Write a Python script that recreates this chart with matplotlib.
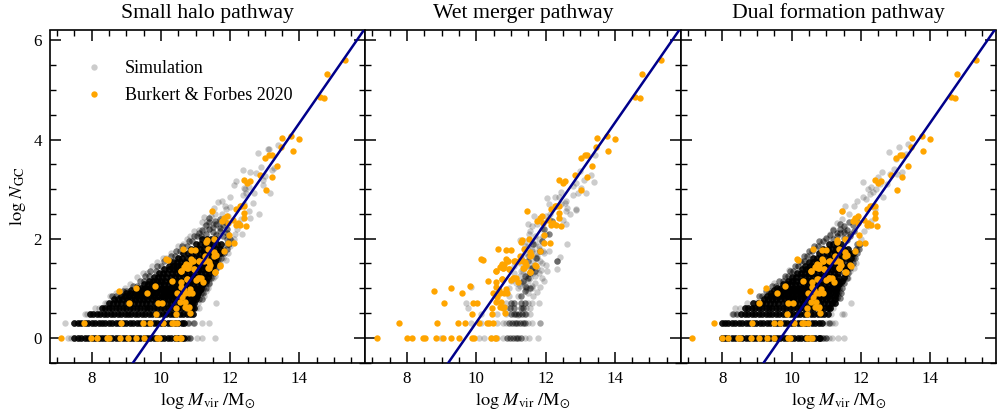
import numpy as np
import matplotlib
matplotlib.use("Agg")
import matplotlib.pyplot as plt

plt.rcParams["font.family"] = ["Liberation Serif", "DejaVu Serif"]
plt.rcParams["mathtext.fontset"] = "stix"

# Burkert & Forbes 2020
obs_x = [7.13, 7.99, 8.16, 8.45, 8.51, 8.83, 9.05, 9.28, 9.50, 9.89, 9.95, 10.44, 10.54, 10.58,
         7.77, 8.86, 9.48, 9.68, 10.07, 10.31, 10.37, 10.47,
         9.87, 10.45, 10.83, 10.76, 10.45, 9.91, 10.03, 9.07, 8.79, 9.27, 9.59, 9.82, 10.33,
         10.57, 10.73, 10.58, 10.58, 10.74, 10.47, 10.61, 10.71, 10.56, 10.69, 10.80, 10.66,
         10.85, 10.90, 10.80, 10.70, 11.00, 11.09, 11.22, 10.95, 10.80, 10.76, 10.90, 11.09,
         11.36, 11.56, 11.40, 11.70, 11.24, 10.20,
         11.47, 12.31, 12.40, 12.40, 12.40, 12.17, 12.46, 12.22, 12.29, 12.17, 11.91, 11.83,
         11.76, 11.93, 12.08, 11.96, 12.12, 11.95, 11.53, 11.32, 11.30, 11.83, 10.63, 10.87,
         10.99, 10.15, 11.37, 11.54, 11.59, 11.54, 11.26, 10.87, 10.92, 11.11, 11.35, 11.43,
         11.72, 10.73, 10.78, 10.68, 10.57, 10.95, 11.38, 11.55, 10.75, 11.16, 11.07,
         13.49, 13.76, 14.00, 13.46, 13.80, 13.01, 13.13, 13.20, 13.35, 12.86, 13.20, 12.40,
         12.57, 12.49, 13.03, 12.27, 15.32, 14.78, 14.59, 14.72]
obs_y = [0, 0, 0, 0, 0, 0, 0, 0, 0, 0, 0, 0, 0, 0,
         0.301, 0.301, 0.301, 0.301, 0.301, 0.301, 0.301, 0.301,
         0.477, 0.477, 0.50, 0.602, 0.602, 0.70, 0.70, 0.70, 0.95, 1.00, 0.90, 1.04, 1.15,
         1.34, 1.48, 1.12, 1.03, 1.19, 0.90, 0.83, 0.73, 0.73, 0.61, 0.61, 0.97,
         0.98, 0.90, 0.90, 0.90, 1.17, 1.20, 1.13, 1.38, 1.47, 1.40, 1.54, 1.54,
         1.40, 1.32, 1.52, 1.46, 1.55, 1.57,
         2.55, 2.65, 2.65, 2.52, 2.42, 2.59, 2.25, 2.32, 2.27, 2.28, 2.46, 2.42,
         2.35, 2.32, 2.38, 2.08, 1.92, 1.91, 2.00, 1.98, 1.93, 1.76, 1.80, 1.77,
         1.77, 1.58, 1.79, 1.74, 1.67, 1.64, 1.65, 1.59, 1.54, 1.54, 1.54, 1.47,
         1.45, 1.47, 1.40, 1.42, 1.35, 1.38, 1.40, 1.32, 1.18, 1.20, 1.20,
         4.04, 4.07, 4.02, 3.85, 3.77, 3.63, 3.69, 3.69, 3.46, 3.28, 3.25, 3.19,
         3.16, 3.12, 2.99, 2.66, 5.60, 5.33, 4.86, 4.84]

# fit line end points
line_x = [9.2, 15.85]
line_y = [-0.5, 6.2]

# small halo pathway, core of the cloud as rows of log N
small_rows_y = [0, 0.301, 0.477, 0.602, 0.699, 0.778, 0.845, 0.903, 0.954, 1.0, 1.08, 1.15,
                1.23, 1.3, 1.38, 1.45, 1.52, 1.6, 1.7, 1.8, 1.9, 2.0]
small_rows_x = [
    [7.5, 7.6, 7.7, 7.8, 7.9, 8.0, 8.1, 8.2, 8.3, 8.4, 8.5, 8.6, 8.7, 8.8, 8.9, 9.0, 9.1, 9.2, 9.3, 9.4,
     9.5, 9.6, 9.7, 9.8, 9.9, 10.0, 10.1, 10.2, 10.3, 10.4, 10.5, 10.6, 10.68],
    [7.5, 7.6, 7.7, 7.8, 7.9, 8.0, 8.1, 8.2, 8.3, 8.4, 8.5, 8.6, 8.7, 8.8, 8.9, 9.0, 9.1, 9.2, 9.3, 9.4,
     9.5, 9.6, 9.7, 9.8, 9.9, 10.0, 10.1, 10.2, 10.3, 10.4, 10.5, 10.6, 10.68],
    [7.95, 8.05, 8.15, 8.25, 8.35, 8.45, 8.55, 8.65, 8.75, 8.85, 8.95, 9.05, 9.15, 9.25, 9.35, 9.45,
     9.55, 9.65, 9.75, 9.85, 9.95, 10.05, 10.15, 10.25, 10.35, 10.45, 10.55, 10.65, 10.75, 10.85, 10.92],
    [8.3, 8.4, 8.5, 8.6, 8.7, 8.8, 8.9, 9.0, 9.1, 9.2, 9.3, 9.4, 9.5, 9.6, 9.7, 9.8, 9.9, 10.0, 10.1,
     10.2, 10.3, 10.4, 10.5, 10.6, 10.7, 10.8, 10.9, 10.95],
    [8.5, 8.62, 8.74, 8.86, 8.98, 9.1, 9.22, 9.34, 9.46, 9.58, 9.7, 9.82, 9.94, 10.06, 10.18, 10.3,
     10.42, 10.54, 10.66, 10.78, 10.9, 10.97],
    [8.65, 8.77, 8.89, 9.01, 9.13, 9.25, 9.37, 9.49, 9.61, 9.73, 9.85, 9.97, 10.09, 10.21, 10.33, 10.45,
     10.57, 10.69, 10.81, 10.93, 11.0],
    [8.85, 8.97, 9.09, 9.21, 9.33, 9.45, 9.57, 9.69, 9.81, 9.93, 10.05, 10.17, 10.29, 10.41, 10.53,
     10.65, 10.77, 10.89, 11.01, 11.05],
    [9.0, 9.12, 9.24, 9.36, 9.48, 9.6, 9.72, 9.84, 9.96, 10.08, 10.2, 10.32, 10.44, 10.56, 10.68, 10.8,
     10.92, 11.04, 11.08],
    [9.15, 9.27, 9.39, 9.51, 9.63, 9.75, 9.87, 9.99, 10.11, 10.23, 10.35, 10.47, 10.59, 10.71, 10.83,
     10.95, 11.07, 11.12],
    [9.3, 9.42, 9.54, 9.66, 9.78, 9.9, 10.02, 10.14, 10.26, 10.38, 10.5, 10.62, 10.74, 10.86, 10.98,
     11.1, 11.15],
    [9.5, 9.62, 9.74, 9.86, 9.98, 10.1, 10.22, 10.34, 10.46, 10.58, 10.7, 10.82, 10.94, 11.06, 11.18, 11.22],
    [9.65, 9.77, 9.89, 10.01, 10.13, 10.25, 10.37, 10.49, 10.61, 10.73, 10.85, 10.97, 11.09, 11.21, 11.3],
    [9.8, 9.92, 10.04, 10.16, 10.28, 10.4, 10.52, 10.64, 10.76, 10.88, 11.0, 11.12, 11.24, 11.35],
    [9.95, 10.07, 10.19, 10.31, 10.43, 10.55, 10.67, 10.79, 10.91, 11.03, 11.15, 11.27, 11.4],
    [10.1, 10.22, 10.34, 10.46, 10.58, 10.7, 10.82, 10.94, 11.06, 11.18, 11.3, 11.45],
    [10.22, 10.34, 10.46, 10.58, 10.7, 10.82, 10.94, 11.06, 11.18, 11.3, 11.42, 11.5],
    [10.35, 10.47, 10.59, 10.71, 10.83, 10.95, 11.07, 11.19, 11.31, 11.43, 11.55],
    [10.5, 10.62, 10.74, 10.86, 10.98, 11.1, 11.22, 11.34, 11.46, 11.6],
    [10.65, 10.77, 10.89, 11.01, 11.13, 11.25, 11.37, 11.49, 11.6, 11.7],
    [10.88, 11.0, 11.12, 11.24, 11.36, 11.48, 11.6, 11.72],
    [11.02, 11.14, 11.26, 11.38, 11.5, 11.62, 11.74],
    [11.2, 11.32, 11.44, 11.56],
]
# small halo pathway, grey edge of the core
small_edge_x = [8.6, 8.7, 8.9, 9.0, 9.2, 9.3, 9.4, 9.5, 9.55, 9.65, 9.7, 9.85, 9.9, 10.0, 10.1, 10.25, 10.3, 10.4,
                10.45, 10.55, 10.6, 10.75, 10.8, 10.9, 10.95, 11.05, 11.15,
                11.1, 11.2, 11.3, 11.4, 11.5, 11.6, 11.7, 11.8, 11.9,
                11.3, 11.4, 11.5, 11.6, 11.7, 11.8, 11.9, 11.4, 11.55, 11.7, 11.85,
                11.1, 11.18, 11.15, 11.22, 11.22, 11.3, 11.3, 11.38, 11.38, 11.45, 11.45, 11.52, 11.5, 11.6,
                11.58, 11.66, 11.66, 11.74, 11.75, 11.82, 11.8, 11.9, 11.9, 11.98, 11.92, 12.0,
                10.75, 10.85, 10.95, 10.78, 10.88]
small_edge_y = [0.85, 0.85, 0.95, 0.95, 1.05, 1.05, 1.15, 1.15, 1.25, 1.25, 1.35, 1.35, 1.45, 1.45, 1.55, 1.55, 1.65, 1.65,
                1.75, 1.75, 1.85, 1.85, 1.95, 1.95, 2.05, 2.05, 2.05,
                2.12, 2.18, 2.1, 2.2, 2.14, 2.08, 2.16, 2.05, 2.12,
                2.27, 2.33, 2.24, 2.3, 2.22, 2.28, 2.2, 2.42, 2.36, 2.4, 2.33,
                0.78, 0.78, 0.9, 0.9, 1.0, 1.0, 1.1, 1.1, 1.2, 1.2, 1.3, 1.3, 1.4, 1.4,
                1.5, 1.5, 1.6, 1.6, 1.7, 1.7, 1.8, 1.8, 1.9, 1.9, 2.0, 2.0,
                0, 0, 0.301, 0.301, 0.477]
# small halo pathway, single galaxies around the core
small_x = [7.22, 7.33, 7.42, 10.78, 10.85, 11.03, 11.18, 11.57, 10.8, 10.92, 11.2, 11.4, 7.82, 7.88,
           8.11, 8.2, 11.02, 11.1, 8.38, 8.45, 11.08, 11.6, 8.52, 8.7, 8.95, 9.1, 9.3, 9.48, 9.6,
           9.75, 9.9, 10.05, 10.15, 10.3, 10.5, 10.64, 10.75, 10.85, 10.95, 11.11, 11.22, 11.25, 11.3, 11.35, 11.4,
           11.5, 11.55, 11.62, 11.7, 11.8, 11.88, 11.95, 12.0, 12.05, 12.1, 12.15, 12.2, 12.25, 12.35,
           11.19, 11.23, 11.26, 11.33, 11.54, 11.65, 11.69, 11.77, 11.88, 12.0, 12.0, 12.45, 12.55, 12.36,
           12.44, 12.55, 12.58, 12.67, 12.82, 12.7, 12.1, 12.17, 12.38, 12.57, 12.75, 12.89, 13.0, 12.8,
           13.08, 13.11, 13.37, 13.22, 13.27, 12.96, 13.16, 12.41, 12.94, 11.4, 11.5, 11.6, 11.45, 11.55, 11.7,
           11.75, 11.85, 11.95, 12.3, 12.4]
small_y = [0.301, 0, 0, 0, 0, 0, 0, 0, 0.301, 0.301, 0.301, 0.301, 0.477, 0.477,
           0.602, 0.602, 0.602, 0.602, 0.699, 0.699, 0.699, 0.699, 0.85, 0.9, 1.0, 1.08, 1.23, 1.3, 1.3,
           1.45, 1.52, 1.6, 1.6, 1.7, 1.85, 1.9, 2.0, 2.05, 2.15, 2.18, 2.15, 0.85, 0.95, 1.0, 1.08,
           1.2, 1.25, 1.4, 1.5, 1.6, 1.57, 1.7, 1.85, 1.95, 2.0, 2.1, 2.2, 2.3, 2.1,
           2.33, 2.43, 2.25, 2.35, 2.61, 2.74, 2.25, 2.75, 2.60, 2.83, 2.64, 2.92, 2.55, 2.89,
           3.01, 3.05, 2.41, 2.71, 2.50, 2.92, 3.08, 3.17, 3.38, 3.34, 3.33, 3.45, 3.27, 3.72,
           3.81, 3.81, 3.89, 3.39, 3.43, 3.09, 2.92, 3.02, 3.19, 2.2, 2.3, 2.1, 2.45, 2.5, 2.35,
           2.5, 2.65, 2.45, 2.4, 2.7]

# wet merger pathway, few enough to list one by one
wet_x = [8.98, 10.08, 10.23, 10.42, 10.6, 10.76, 11.4, 11.52, 11.77,
         9.84, 10.13, 10.61, 10.76, 10.85, 11.5, 11.62, 11.83, 11.83,
         10.13, 10.6, 10.85, 11.45, 11.55, 9.77, 10.9, 11.45, 11.55,
         10.85, 11.5, 11.6, 11.8, 9.7, 10.95, 11.2, 11.5, 11.65, 11.75,
         9.85, 10.95, 11.25, 11.45, 11.6, 11.85, 11.0, 11.15, 11.35, 11.55, 11.7, 11.95,
         11.1, 11.3, 11.45, 11.65, 11.88, 12.04, 12.0, 11.1, 11.25, 11.6, 11.75, 11.9,
         12.34, 12.33, 12.41, 12.09, 11.3, 11.5, 11.75, 11.95, 11.4, 11.6, 11.8,
         12.62, 11.26, 11.53, 11.54, 11.7, 11.9, 11.68, 12.1, 12.5, 12.6, 12.7,
         12.03, 12.27, 12.55, 12.87, 12.10, 12.39, 12.6, 12.46, 12.62, 12.87, 12.79, 12.95,
         13.03, 12.8, 12.89, 13.11, 13.4, 13.3, 13.0, 13.16, 13.42, 12.6, 12.45, 11.2,
         11.2, 11.3, 11.4, 11.5, 11.6, 11.7, 11.8, 11.9, 11.25, 11.35, 11.45, 11.55, 11.65, 11.75, 11.85,
         11.3, 11.42, 11.52, 11.62, 11.72, 11.82, 11.92, 11.4, 11.5, 11.6, 11.7, 11.8, 11.92, 12.02,
         11.5, 11.62, 11.75, 11.88, 12.0, 12.12]
wet_y = [0, 0, 0, 0, 0, 0, 0, 0, 0,
         0.301, 0.301, 0.301, 0.301, 0.301, 0.301, 0.301, 0.301, 0.301,
         0.477, 0.477, 0.477, 0.477, 0.477, 0.602, 0.602, 0.602, 0.602,
         0.699, 0.699, 0.699, 0.699, 0.699, 0.85, 0.85, 0.9, 0.85, 0.92,
         1.02, 1.0, 1.05, 0.98, 1.0, 1.02, 1.15, 1.1, 1.12, 1.2, 1.1, 1.15,
         1.3, 1.35, 1.25, 1.3, 1.37, 1.34, 1.47, 1.45, 1.5, 1.45, 1.4, 1.5,
         1.38, 1.54, 1.63, 1.75, 1.6, 1.65, 1.65, 1.7, 1.85, 1.8, 1.85,
         1.90, 1.98, 2.1, 2.15, 2.05, 2.2, 2.45, 2.4, 2.38, 2.3, 2.5,
         2.82, 2.84, 2.71, 2.58, 2.70, 2.84, 2.76, 2.95, 2.62, 2.60, 2.88, 2.92,
         3.03, 3.06, 3.12, 3.19, 3.15, 3.29, 3.36, 2.92, 3.68, 2.55, 2.7, 0.45,
         1.0, 1.1, 1.05, 1.15, 1.05, 1.25, 1.3, 1.2, 1.25, 1.35, 1.45, 1.4, 1.55, 1.6, 1.55,
         1.6, 1.7, 1.65, 1.75, 1.7, 1.8, 1.75, 1.95, 1.85, 1.95, 1.9, 2.0, 2.05, 2.1,
         2.3, 2.25, 2.3, 2.35, 2.45, 2.5]
wet_dark_x = [10.9, 10.98, 11.06, 11.14, 11.22, 11.3, 10.95, 11.03, 11.11, 11.19, 11.27, 11.35, 11.42,
              11.0, 11.08, 11.16, 11.24, 11.32, 11.4, 10.98, 11.1, 11.28, 11.36, 11.0, 11.1, 11.3, 11.4,
              11.3, 11.42, 11.45, 11.55, 11.35, 11.5, 11.42, 11.55, 11.6, 11.7, 11.5, 11.72, 11.85, 11.65,
              11.9, 12.33, 11.95, 12.09, 12.2]
wet_dark_y = [0, 0, 0, 0, 0, 0, 0.301, 0.301, 0.301, 0.301, 0.301, 0.301, 0.301,
              0.477, 0.477, 0.477, 0.477, 0.477, 0.477, 0.602, 0.602, 0.602, 0.602, 0.699, 0.699, 0.699, 0.699,
              0.85, 0.95, 1.02, 1.0, 1.15, 1.2, 1.25, 1.3, 1.4, 1.35, 1.55, 1.6, 1.75, 1.9,
              1.95, 1.54, 2.2, 2.1, 2.35]

# dual formation pathway
dual_rows_y = [0, 0.301, 0.477, 0.602, 0.699, 0.778, 0.845, 0.903, 0.954, 1.0, 1.08, 1.15,
               1.23, 1.3, 1.38, 1.45, 1.52, 1.6, 1.7, 1.8, 1.9]
dual_rows_x = [
    [7.98, 8.08, 8.18, 8.28, 8.38, 8.48, 8.58, 8.68, 8.78, 8.88, 8.98, 9.08, 9.18, 9.28, 9.38, 9.48, 9.58,
     9.68, 9.78, 9.88, 9.98, 10.08, 10.18, 10.28, 10.38, 10.48, 10.58, 10.68, 10.78, 10.83],
    [7.98, 8.08, 8.18, 8.28, 8.38, 8.48, 8.58, 8.68, 8.78, 8.88, 8.98, 9.08, 9.18, 9.28, 9.38, 9.48, 9.58,
     9.68, 9.78, 9.88, 9.98, 10.08, 10.18, 10.28, 10.38, 10.48, 10.58, 10.68, 10.78, 10.88],
    [8.55, 8.65, 8.75, 8.85, 8.95, 9.05, 9.15, 9.25, 9.35, 9.45, 9.55, 9.65, 9.75, 9.85, 9.95, 10.05,
     10.15, 10.25, 10.35, 10.45, 10.55, 10.65, 10.75, 10.85, 10.95, 11.05],
    [8.65, 8.75, 8.85, 8.95, 9.05, 9.15, 9.25, 9.35, 9.45, 9.55, 9.65, 9.75, 9.85, 9.95, 10.05, 10.15,
     10.25, 10.35, 10.45, 10.55, 10.65, 10.75, 10.85, 10.95, 11.05, 11.1],
    [8.9, 9.02, 9.14, 9.26, 9.38, 9.5, 9.62, 9.74, 9.86, 9.98, 10.1, 10.22, 10.34, 10.46, 10.58, 10.7,
     10.82, 10.94, 11.06, 11.18, 11.25],
    [9.2, 9.32, 9.44, 9.56, 9.68, 9.8, 9.92, 10.04, 10.16, 10.28, 10.4, 10.52, 10.64, 10.76, 10.88, 11.0,
     11.12, 11.25],
    [9.3, 9.42, 9.54, 9.66, 9.78, 9.9, 10.02, 10.14, 10.26, 10.38, 10.5, 10.62, 10.74, 10.86, 10.98, 11.1, 11.25],
    [9.42, 9.54, 9.66, 9.78, 9.9, 10.02, 10.14, 10.26, 10.38, 10.5, 10.62, 10.74, 10.86, 10.98, 11.1, 11.27],
    [9.5, 9.62, 9.74, 9.86, 9.98, 10.1, 10.22, 10.34, 10.46, 10.58, 10.7, 10.82, 10.94, 11.06, 11.18, 11.28],
    [9.58, 9.7, 9.82, 9.94, 10.06, 10.18, 10.3, 10.42, 10.54, 10.66, 10.78, 10.9, 11.02, 11.14, 11.3],
    [9.75, 9.87, 9.99, 10.11, 10.23, 10.35, 10.47, 10.59, 10.71, 10.83, 10.95, 11.07, 11.19, 11.31, 11.38],
    [9.9, 10.02, 10.14, 10.26, 10.38, 10.5, 10.62, 10.74, 10.86, 10.98, 11.1, 11.22, 11.34, 11.45],
    [10.02, 10.14, 10.26, 10.38, 10.5, 10.62, 10.74, 10.86, 10.98, 11.1, 11.22, 11.34, 11.5],
    [10.15, 10.27, 10.39, 10.51, 10.63, 10.75, 10.87, 10.99, 11.11, 11.23, 11.35, 11.53],
    [10.3, 10.42, 10.54, 10.66, 10.78, 10.9, 11.02, 11.14, 11.26, 11.38, 11.58],
    [10.4, 10.52, 10.64, 10.76, 10.88, 11.0, 11.12, 11.24, 11.36, 11.48, 11.6],
    [10.5, 10.62, 10.74, 10.86, 10.98, 11.1, 11.22, 11.34, 11.46, 11.65],
    [10.62, 10.74, 10.86, 10.98, 11.1, 11.22, 11.34, 11.46, 11.58, 11.72],
    [10.78, 10.9, 11.02, 11.14, 11.26, 11.38, 11.5, 11.62, 11.78],
    [10.92, 11.04, 11.16, 11.28, 11.4, 11.52, 11.64],
    [11.08, 11.2, 11.32, 11.44],
]
dual_edge_x = [9.05, 9.15, 9.25, 9.35, 9.45, 9.55, 9.65, 9.75, 9.8, 9.9, 9.95, 10.05, 10.1, 10.2, 10.25, 10.35, 10.35,
               10.45, 10.5, 10.6, 10.65, 10.75, 10.8, 10.9, 11.0, 11.1, 11.2, 11.3, 11.4, 11.5, 11.6, 11.7,
               11.2, 11.3, 11.4, 11.5, 11.6, 11.7, 11.8, 11.4, 11.52, 11.65, 11.78, 11.9,
               11.32, 11.4, 11.35, 11.42, 11.38, 11.45, 11.43, 11.5, 11.52, 11.6, 11.56, 11.64, 11.62, 11.7,
               11.68, 11.76, 11.76, 11.84, 11.8, 11.88, 11.86, 11.94, 11.9, 11.98,
               8.3, 8.42, 10.9, 10.98, 11.08, 11.12, 11.18]
dual_edge_y = [0.85, 0.85, 0.95, 0.95, 1.05, 1.05, 1.15, 1.15, 1.25, 1.25, 1.35, 1.35, 1.45, 1.45, 1.55, 1.55, 1.65,
               1.65, 1.75, 1.75, 1.85, 1.85, 1.95, 1.95, 2.02, 2.08, 2.0, 2.06, 2.12, 2.02, 1.98, 2.05,
               2.17, 2.12, 2.2, 2.14, 2.18, 2.1, 2.15, 2.3, 2.26, 2.33, 2.27, 2.35,
               0.8, 0.8, 0.9, 0.9, 1.0, 1.0, 1.1, 1.1, 1.2, 1.2, 1.3, 1.3, 1.4, 1.4,
               1.5, 1.5, 1.6, 1.6, 1.7, 1.7, 1.8, 1.8, 1.9, 1.9,
               0.477, 0.477, 0, 0, 0.301, 0.602, 0.699]
dual_x = [10.92, 11.0, 11.08, 11.18, 11.35, 11.5, 11.0, 11.1, 11.18, 11.25, 8.29, 8.4, 11.13, 11.45, 11.5,
          8.38, 8.5, 11.2, 9.15, 9.0, 8.7, 11.72, 11.35, 11.4, 9.3, 9.5, 9.82, 9.92, 10.0, 10.2, 10.3, 10.54,
          10.4, 10.7, 10.85, 11.0, 11.1, 11.2, 11.31, 11.45, 11.5, 11.55, 11.62, 11.7, 11.8, 11.85, 11.78, 11.88,
          11.95, 12.0, 12.1, 12.2, 12.3, 11.45, 11.55, 11.65, 11.79, 11.9, 12.05, 12.15, 12.25, 12.35,
          12.45, 12.55, 12.65, 12.4, 12.3, 12.5, 12.75, 12.85, 12.2, 12.05, 12.6, 12.95, 13.05, 13.2, 13.3,
          13.0, 12.8, 13.1, 13.35]
dual_y = [0, 0, 0, 0, 0, 0, 0.301, 0.301, 0.301, 0.301, 0.477, 0.477, 0.477, 0.477, 0.477,
          0.602, 0.602, 0.602, 0.73, 0.72, 0.7, 0.7, 0.85, 0.95, 0.85, 1.1, 1.2, 1.37, 1.3, 1.45, 1.5, 1.67,
          1.55, 1.8, 1.9, 2.0, 2.1, 2.2, 2.32, 2.4, 2.2, 2.1, 1.2, 1.35, 1.4, 1.5, 1.7, 1.8,
          1.9, 2.0, 2.15, 2.25, 2.35, 2.55, 2.65, 2.5, 2.65, 2.75, 2.85, 2.8, 2.9, 2.95,
          3.0, 3.1, 2.85, 2.6, 3.05, 3.25, 3.1, 3.3, 3.0, 3.15, 3.35, 3.4, 3.3, 3.35, 3.7,
          3.6, 3.75, 3.85, 3.9]

titles = ["Small halo pathway", "Wet merger pathway", "Dual formation pathway"]

# the black core needs many galaxies on top of each other
core_count = 10
edge_count = 3
wet_dark_count = 3


def rows_to_xy(rows_y, rows_x):
    xs, ys = [], []
    for y, row in zip(rows_y, rows_x):
        xs.extend(row)
        ys.extend([y] * len(row))
    return np.array(xs), np.array(ys)


small_core_x, small_core_y = rows_to_xy(small_rows_y, small_rows_x)
dual_core_x, dual_core_y = rows_to_xy(dual_rows_y, dual_rows_x)

sim_x = [np.concatenate([np.repeat(small_core_x, core_count), np.repeat(small_edge_x, edge_count), small_x]),
         np.concatenate([np.repeat(wet_dark_x, wet_dark_count), wet_x]),
         np.concatenate([np.repeat(dual_core_x, core_count), np.repeat(dual_edge_x, edge_count), dual_x])]
sim_y = [np.concatenate([np.repeat(small_core_y, core_count), np.repeat(small_edge_y, edge_count), small_y]),
         np.concatenate([np.repeat(wet_dark_y, wet_dark_count), wet_y]),
         np.concatenate([np.repeat(dual_core_y, core_count), np.repeat(dual_edge_y, edge_count), dual_y])]

fig, axes = plt.subplots(1, 3, figsize=(9.97, 4.19), dpi=100, sharex=True, sharey=True)
fig.subplots_adjust(left=50 / 997, right=996 / 997, bottom=1 - 362.5 / 419, top=1 - 30.5 / 419, wspace=0)

for i, ax in enumerate(axes):
    ax.scatter(sim_x[i], sim_y[i], s=21, c="k", alpha=0.2, linewidths=0, label="Simulation", zorder=2)
    ax.scatter(obs_x, obs_y, s=21, c="orange", linewidths=0, label="Burkert & Forbes 2020", zorder=3)
    ax.plot(line_x, line_y, color="darkblue", lw=1.8, zorder=4)
    ax.set_xlim(6.8, 15.9)
    ax.set_ylim(-0.5, 6.2)
    ax.set_xticks([8, 10, 12, 14])
    ax.set_yticks([0, 2, 4, 6])
    ax.set_xticks(np.arange(7, 16, 0.5), minor=True)
    ax.set_yticks(np.arange(-0.5, 6.1, 0.5), minor=True)
    ax.tick_params(which="major", direction="in", top=True, right=True, length=8, width=1.1, labelsize=12.2, pad=6)
    ax.tick_params(which="minor", direction="in", top=True, right=True, length=4, width=1)
    for s in ax.spines.values():
        s.set_linewidth(1.2)
    ax.set_title(titles[i], fontsize=15.7, pad=9)
    ax.set_xlabel(r"$\log\,M_{\rm vir}\ /{\rm M}_{\odot}$", fontsize=13.2, labelpad=3)

axes[0].set_ylabel(r"$\log\,N_{\rm GC}$", fontsize=13.2, labelpad=4)
axes[0].legend(loc="upper left", bbox_to_anchor=(0.082, 0.91), frameon=False, fontsize=13, labelspacing=0.56,
               handletextpad=0.72, borderpad=0, borderaxespad=0, scatteryoffsets=[0.5])

fig.savefig("out.png", dpi=100)
